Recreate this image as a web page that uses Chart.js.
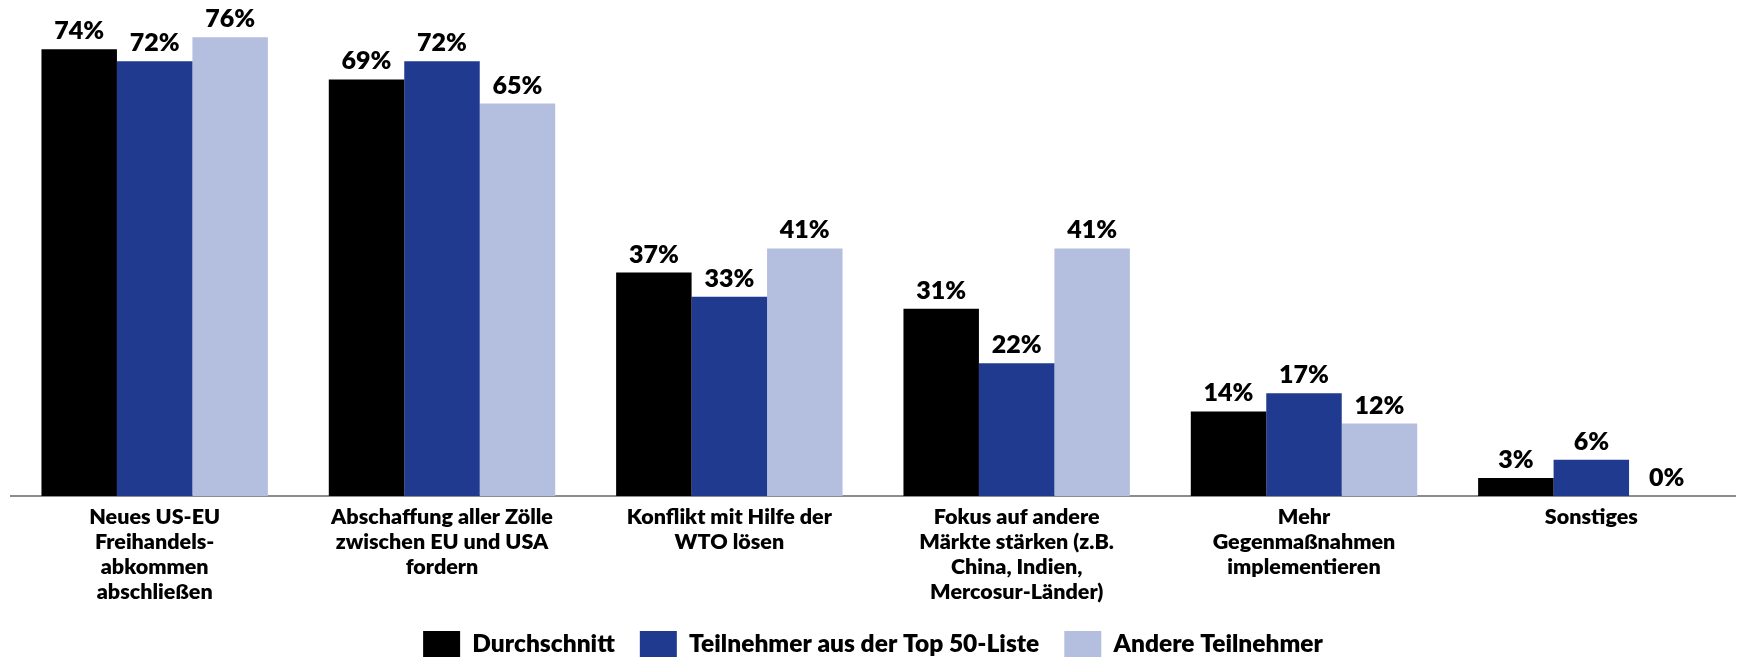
<!DOCTYPE html>
<html>
<head>
<meta charset="utf-8">
<script src="https://cdn.jsdelivr.net/npm/chart.js@4/dist/chart.umd.min.js"></script>
<style>
  html, body { margin: 0; padding: 0; background: #fff; }
  #wrap { width: 1737px; height: 657px; position: relative; }
</style>
</head>
<body>
<div id="wrap"><canvas id="myChart"></canvas></div>
<script>
const labels = [
    ["Neues US-EU", "Freihandels-", "abkommen", "abschließen"],
    ["Abschaffung aller Zölle", "zwischen EU und USA", "fordern"],
    ["Konflikt mit Hilfe der", "WTO lösen"],
    ["Fokus auf andere", "Märkte stärken (z.B.", "China, Indien,", "Mercosur-Länder)"],
    ["Mehr", "Gegenmaßnahmen", "implementieren"],
    ["Sonstiges"],
];

const durchschnitt = [74, 69, 37, 31, 14, 3];
const top50 = [72, 72, 33, 22, 17, 6];
const andere = [76, 65, 41, 41, 12, 0];

const FONT = "Lato, 'Open Sans', sans-serif";

// draws the "xx%" values above each bar
const valueLabels = {
    id: "valueLabels",
    afterDatasetsDraw(chart) {
        const ctx = chart.ctx;
        ctx.save();
        ctx.font = "800 25px " + FONT;
        ctx.fillStyle = "#000";
        ctx.textAlign = "center";
        ctx.textBaseline = "alphabetic";
        chart.data.datasets.forEach((ds, i) => {
            chart.getDatasetMeta(i).data.forEach((bar, j) => {
                ctx.fillText(ds.data[j] + "%", bar.x, bar.y - 10);
            });
        });
        ctx.restore();
    },
};

// legend takes no room in the layout; put its row at the bottom edge
const legendRow = {
    id: "legendRow",
    afterLayout(chart) {
        const lg = chart.legend;
        lg.top = 631 - lg.options.labels.padding;
        lg.bottom = 657;
    },
};

const data = {
    labels: labels,
    datasets: [
        {
            label: "Durchschnitt",
            backgroundColor: "#000000",
            data: durchschnitt,
        },
        {
            label: "Teilnehmer aus der Top 50-Liste",
            backgroundColor: "#1f3a8f",
            data: top50,
        },
        {
            label: "Andere Teilnehmer",
            backgroundColor: "#b4bfdf",
            data: andere,
        },
    ],
};

const config = {
    type: "bar",
    data: data,
    plugins: [valueLabels, legendRow],
    options: {
        responsive: true,
        maintainAspectRatio: false,
        animation: false,
        layout: {
            padding: { left: 11, right: 2, top: 13, bottom: 0 },
        },
        datasets: {
            bar: {
                categoryPercentage: 0.788,
                barPercentage: 1.0,
            },
        },
        scales: {
            x: {
                grid: { display: false },
                border: { display: true, color: "#8c8c8c", width: 2 },
                ticks: {
                    color: "#000",
                    padding: 0,
                    maxRotation: 0,
                    autoSkip: false,
                    font: { family: FONT, size: 21.5, weight: "800", lineHeight: 1.17 },
                },
                afterFit(scale) {
                    scale.height = 160;
                },
            },
            y: {
                display: false,
                min: 0,
                max: 80,
            },
        },
        plugins: {
            tooltip: { enabled: false },
            legend: {
                position: "bottom",
                maxHeight: 1,
                labels: {
                    color: "#000",
                    boxWidth: 37,
                    boxHeight: 26,
                    padding: 25,
                    font: { family: FONT, size: 24.5, weight: "800" },
                },
            },
        },
    },
};

new Chart(document.getElementById("myChart"), config);
</script>
</body>
</html>
